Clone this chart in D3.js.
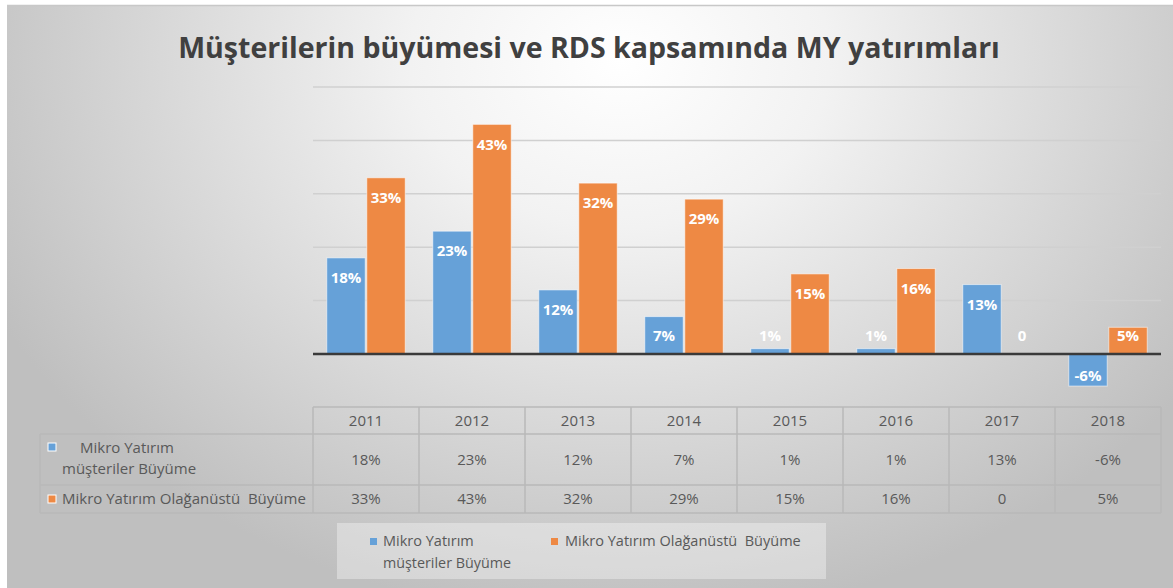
<!DOCTYPE html>
<html><head><meta charset="utf-8">
<script src="https://cdn.jsdelivr.net/npm/d3@7"></script>
<style>html,body{margin:0;padding:0;background:#fff;}svg{display:block;}text{white-space:pre;}</style>
</head><body>
<script>
const title = "Müşterilerin büyümesi ve RDS kapsamında MY yatırımları";
const years = ["2011","2012","2013","2014","2015","2016","2017","2018"];
const seriesNames = ["Mikro Yatırım müşteriler Büyüme","Mikro Yatırım Olağanüstü  Büyüme"];
const musteriValues = [18,23,12,7,1,1,13,-6];
const olaganustuValues = [33,43,32,29,15,16,0,5];
const musteriLabels = ["18%","23%","12%","7%","1%","1%","13%","-6%"];
const olaganustuLabels = ["33%","43%","32%","29%","15%","16%","0","5%"];
const gridTicks = [0,10,20,30,40,50];
const colors = ["#66a1d8","#ee8944"];

(function(){
const W=1173,H=588;
const svg=d3.select("body").append("svg").attr("width",W).attr("height",H);
const defs=svg.append("defs");
const rg=defs.append("radialGradient").attr("id","bg").attr("gradientUnits","userSpaceOnUse")
  .attr("cx",620).attr("cy",60).attr("r",700).attr("gradientTransform","translate(620,60) scale(1,0.8) translate(-620,-60)");
rg.append("stop").attr("offset","0").attr("stop-color","#ffffff");
rg.append("stop").attr("offset","0.3").attr("stop-color","#f2f2f2");
rg.append("stop").attr("offset","1").attr("stop-color","#bfbfbf");
svg.append("rect").attr("x",7).attr("y",5).attr("width",W-7).attr("height",H-5).attr("fill","url(#bg)");
svg.append("line").attr("x1",7).attr("x2",W).attr("y1",5.5).attr("y2",5.5).attr("stroke","#c8c8c8").attr("stroke-width",1.5);

// title
const t=svg.append("text").attr("x",589).attr("y",58).attr("text-anchor","middle")
  .attr("font-family","'Open Sans',sans-serif").attr("font-weight","bold").attr("font-size",28)
  .attr("fill","#404040").text(title);
{const w=t.node().getComputedTextLength(); t.attr("font-size",28*822/w);}

const pLeft=313,pRight=1161,pTop=87,zeroY=354;
const x0=d3.scaleBand().domain(years).range([pLeft,pRight]).paddingInner(0.26).paddingOuter(0.13);
const x1=d3.scaleBand().domain([0,1]).range([0,x0.bandwidth()]).paddingInner(0.04);
const y=d3.scaleLinear().domain([0,50]).range([zeroY,pTop]);

// gridlines
svg.append("g").selectAll("line").data(gridTicks.filter(d=>d>0)).join("line")
  .attr("x1",pLeft).attr("x2",pRight).attr("y1",d=>y(d)).attr("y2",d=>y(d))
  .attr("stroke","#d0d0d0").attr("stroke-width",1.5);

const data=years.map((yr,i)=>({yr,vals:[musteriValues[i],olaganustuValues[i]],labels:[musteriLabels[i],olaganustuLabels[i]]}));
const g=svg.append("g");
data.forEach(d=>{
  d.vals.forEach((v,s)=>{
    const bx=x0(d.yr)+x1(s), bw=x1.bandwidth();
    const y0=y(Math.max(0,v)), y1=y(Math.min(0,v));
    if(v!==0){
      g.append("rect").attr("x",bx).attr("y",y0).attr("width",bw).attr("height",y1-y0)
        .attr("fill",colors[s]).attr("stroke","rgba(255,255,255,0.55)").attr("stroke-width",1);
    }
    let ly;
    if(v>=0) ly=Math.min(y0+20, zeroY-18);
    else ly=y1-10;
    g.append("text").attr("x",bx+bw/2).attr("y",ly).attr("dy","0.35em").attr("text-anchor","middle")
      .attr("font-family","'Open Sans',sans-serif").attr("font-weight","bold").attr("font-size",15)
      .attr("fill","#ffffff").text(d.labels[s]);
  });
});
// zero line
svg.append("line").attr("x1",pLeft).attr("x2",pRight).attr("y1",zeroY).attr("y2",zeroY)
  .attr("stroke","#3a3a3a").attr("stroke-width",2.5);

// data table
const tf="'Open Sans',sans-serif", tc="#595959";
const r0=407,r1=434,r2=485,r3=513,tl=40;
const tg=svg.append("g").attr("stroke","#b8b8b8").attr("stroke-width",1.5).attr("fill","none");
tg.append("line").attr("x1",pLeft).attr("x2",pRight).attr("y1",r0).attr("y2",r0);
[r1,r2,r3].forEach(yy=>tg.append("line").attr("x1",tl).attr("x2",pRight).attr("y1",yy).attr("y2",yy));
tg.append("line").attr("x1",tl).attr("x2",tl).attr("y1",r1).attr("y2",r3);
years.forEach(yr=>{const xx=x0(yr)-x0.step()*x0.paddingInner()/2;
  tg.append("line").attr("x1",xx).attr("x2",xx).attr("y1",r0).attr("y2",r3);});
tg.append("line").attr("x1",pRight).attr("x2",pRight).attr("y1",r0).attr("y2",r3);

const txt=(x,yy,s,anchor,fs,maxW)=>{const e=svg.append("text").attr("x",x).attr("y",yy).attr("dy","0.35em")
  .attr("text-anchor",anchor||"middle").attr("font-family",tf).attr("font-size",fs).attr("fill",tc).text(s);
  if(maxW){const w=e.node().getComputedTextLength(); if(w>maxW) e.attr("textLength",maxW).attr("lengthAdjust","spacingAndGlyphs");}
  return e;};
years.forEach((yr,i)=>{
  const cx=x0(yr)+x0.bandwidth()/2;
  txt(cx,(r0+r1)/2,yr,"middle",15);
  txt(cx,(r1+r2)/2,musteriLabels[i],"middle",15);
  txt(cx,(r2+r3)/2,olaganustuLabels[i],"middle",15);
});
// row headers
svg.append("rect").attr("x",48).attr("y",443).attr("width",8).attr("height",8).attr("fill",colors[0]).attr("stroke","#fff").attr("stroke-width",1);
txt(80,448,"Mikro Yatırım","start",15,100);
txt(62,469,"müşteriler Büyüme","start",15,137);
svg.append("rect").attr("x",48).attr("y",495).attr("width",8).attr("height",8).attr("fill",colors[1]).attr("stroke","#fff").attr("stroke-width",1);
txt(62,499,seriesNames[1],"start",15,246);

// legend
svg.append("rect").attr("x",337).attr("y",523).attr("width",489).attr("height",56).attr("fill","rgba(255,255,255,0.35)");
svg.append("rect").attr("x",370).attr("y",538).attr("width",7).attr("height",7).attr("fill",colors[0]);
txt(383,541,"Mikro Yatırım","start",14.5,91);
txt(383,563,"müşteriler Büyüme","start",14.5,128);
svg.append("rect").attr("x",551).attr("y",538).attr("width",7).attr("height",7).attr("fill",colors[1]);
txt(565,541,seriesNames[1],"start",14.5,236);
})();
</script>
</body></html>
